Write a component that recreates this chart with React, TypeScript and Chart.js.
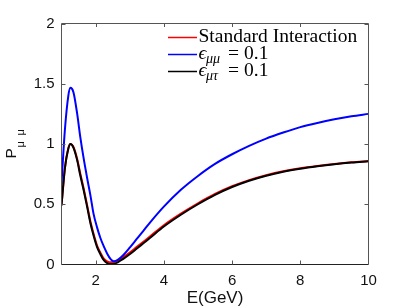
import React, { useEffect, useRef } from 'react';
import { Chart, registerables } from 'chart.js';

Chart.register(...registerables);

const E_GEV = [1.0, 1.1, 1.2, 1.26, 1.35, 1.46, 1.55, 1.65, 1.75, 1.85, 1.94, 2.04, 2.14, 2.24, 2.34, 2.44, 2.53, 2.65, 2.8, 3.0, 3.2, 3.4, 3.6, 4.0, 4.5, 5.0, 5.5, 6.0, 6.5, 7.0, 7.5, 8.0, 8.5, 9.0, 9.5, 10.0];

const P_STANDARD = [0.49, 0.8, 0.965, 1.0, 0.975, 0.875, 0.755, 0.63, 0.495, 0.355, 0.255, 0.16, 0.098, 0.048, 0.026, 0.018, 0.019, 0.032, 0.059, 0.099, 0.144, 0.189, 0.234, 0.326, 0.422, 0.508, 0.585, 0.649, 0.7, 0.741, 0.774, 0.799, 0.818, 0.834, 0.848, 0.859];

const P_EMUMU = [0.67, 1.12, 1.4, 1.466, 1.43, 1.25, 1.06, 0.88, 0.72, 0.57, 0.42, 0.31, 0.22, 0.15, 0.09, 0.045, 0.027, 0.038, 0.075, 0.14, 0.21, 0.28, 0.35, 0.48, 0.62, 0.735, 0.835, 0.915, 0.985, 1.045, 1.095, 1.14, 1.175, 1.205, 1.23, 1.25];

const P_EMUTAU = [0.49, 0.8, 0.96, 1.0, 0.97, 0.864, 0.74, 0.616, 0.48, 0.34, 0.24, 0.146, 0.085, 0.036, 0.012, 0.004, 0.005, 0.018, 0.045, 0.085, 0.13, 0.176, 0.222, 0.315, 0.413, 0.5, 0.578, 0.643, 0.695, 0.737, 0.77, 0.795, 0.815, 0.832, 0.846, 0.857];

const X_TICKS = [2, 4, 6, 8, 10];
const Y_TICKS = [0, 0.5, 1, 1.5, 2];

const SERIES_NAMES = ['Standard Interaction', 'ϵμμ = 0.1', 'ϵμτ = 0.1'];
const SERIES_COLORS = ['#ff0000', '#0000ff', '#000000'];

export default function App() {
  const ref = useRef<HTMLCanvasElement | null>(null);

  useEffect(() => {
    document.body.style.margin = '0';
    const canvas = ref.current;
    if (!canvas) return;
    const pts = (ys: number[]) => E_GEV.map((x, i) => ({ x, y: ys[i] }));

    const framePlugin = {
      id: 'frame',
      afterDraw(chart: any) {
        const { ctx, chartArea: a, scales } = chart;
        const xs = scales.x;
        const ys = scales.y;
        ctx.save();
        const L = 61.5, R = 368.5, T = 23.5, B = 264.5;
        ctx.lineWidth = 1;
        ctx.strokeStyle = '#555';
        ctx.beginPath();
        ctx.moveTo(L, B); ctx.lineTo(L, T); ctx.lineTo(R, T); ctx.lineTo(R, B);
        ctx.stroke();
        ctx.strokeStyle = '#222';
        ctx.beginPath();
        ctx.moveTo(L, B); ctx.lineTo(R, B);
        ctx.stroke();
        ctx.strokeStyle = '#555';
        ctx.beginPath();
        for (const v of X_TICKS) {
          const px = Math.round(xs.getPixelForValue(v)) + 0.5;
          if (px > R - 1) continue;
          ctx.moveTo(px, B); ctx.lineTo(px, B - 4);
          ctx.moveTo(px, T); ctx.lineTo(px, T + 3.5);
        }
        for (const v of Y_TICKS) {
          const py = Math.round(ys.getPixelForValue(v)) + 0.5;
          if (py < T + 1 || py > B - 1) continue;
          ctx.moveTo(L, py); ctx.lineTo(L + 4, py);
          ctx.moveTo(R, py); ctx.lineTo(R - 4, py);
        }
        ctx.stroke();

        // axis titles
        ctx.fillStyle = '#111';
        ctx.font = '17px "Liberation Sans", Arial, sans-serif';
        ctx.textAlign = 'center';
        ctx.textBaseline = 'alphabetic';
        ctx.fillText('E(GeV)', (a.left + a.right) / 2, 302.5);

        ctx.save();
        ctx.translate(15.5, 158.5);
        ctx.rotate(-Math.PI / 2);
        ctx.textAlign = 'left';
        ctx.font = '15.5px "Liberation Sans", Arial, sans-serif';
        ctx.fillText('P', 0, 0);
        ctx.font = '11px "Liberation Sans", Arial, sans-serif';
        ctx.fillText('μ', 11, 8.5);
        ctx.fillText('μ', 23, 8.5);
        ctx.restore();

        // legend
        const rows = [37, 54, 71];
        const serif = '"Liberation Serif", "DejaVu Serif", serif';
        rows.forEach((y, i) => {
          ctx.strokeStyle = SERIES_COLORS[i];
          ctx.lineWidth = 1.5;
          ctx.beginPath();
          ctx.moveTo(168, y + 0.5); ctx.lineTo(197, y + 0.5);
          ctx.stroke();
          ctx.fillStyle = '#000';
          ctx.textAlign = 'left';
          ctx.textBaseline = 'alphabetic';
          const base = y + 5;
          if (i === 0) {
            ctx.font = '19.5px ' + serif;
            ctx.fillText(SERIES_NAMES[0], 198.5, base);
          } else {
            const name = SERIES_NAMES[i];
            ctx.font = 'italic 19.5px ' + serif;
            ctx.fillText(name.charAt(0), 198.5, base);
            ctx.font = 'italic 14px ' + serif;
            ctx.fillText(name.slice(1, 3), 206, base + 4);
            ctx.font = '19.5px ' + serif;
            const rest = name.slice(3).trim();
            ctx.fillText(rest.charAt(0), 228, base);
            ctx.fillText(rest.slice(1).trim(), 244, base);
          }
        });
        ctx.restore();
      },
    };

    const common = { borderWidth: 2, pointRadius: 0, cubicInterpolationMode: 'monotone' as const, fill: false };

    const chart = new Chart(canvas, {
      type: 'line',
      data: {
        datasets: [
          { label: SERIES_NAMES[0], data: pts(P_STANDARD), borderColor: SERIES_COLORS[0], order: 2, ...common },
          { label: SERIES_NAMES[1], data: pts(P_EMUMU), borderColor: SERIES_COLORS[1], order: 1, ...common },
          { label: SERIES_NAMES[2], data: pts(P_EMUTAU), borderColor: SERIES_COLORS[2], order: 0, ...common },
        ],
      },
      options: {
        responsive: false,
        animation: false,
        layout: { padding: { left: 0, right: 38.5, top: 23.5, bottom: 0 } },
        plugins: { legend: { display: false }, tooltip: { enabled: false }, title: { display: false } },
        scales: {
          x: {
            type: 'linear',
            min: 1,
            max: 10,
            afterBuildTicks: (s: any) => { s.ticks = X_TICKS.map((v) => ({ value: v })); },
            afterFit: (s: any) => { s.height = 306 - 264.5; },
            grid: { display: false, drawTicks: false },
            border: { display: false },
            ticks: { padding: 7, color: '#111', font: { family: '"Liberation Sans", Arial, sans-serif', size: 15 }, maxRotation: 0, autoSkip: false, callback: (v: any) => String(v) },
          },
          y: {
            type: 'linear',
            min: 0,
            max: 2,
            afterBuildTicks: (s: any) => { s.ticks = Y_TICKS.map((v) => ({ value: v })); },
            afterFit: (s: any) => { s.width = 61.5; },
            grid: { display: false, drawTicks: false },
            border: { display: false },
            ticks: { padding: 7, color: '#111', font: { family: '"Liberation Sans", Arial, sans-serif', size: 15 }, autoSkip: false, callback: (v: any) => String(v) },
          },
        },
      },
      plugins: [framePlugin],
    });
    return () => chart.destroy();
  }, []);

  return (
    <div style={{ width: 407, height: 306 }}>
      <canvas ref={ref} width={407} height={306} style={{ display: 'block', width: 407, height: 306 }} />
    </div>
  );
}
